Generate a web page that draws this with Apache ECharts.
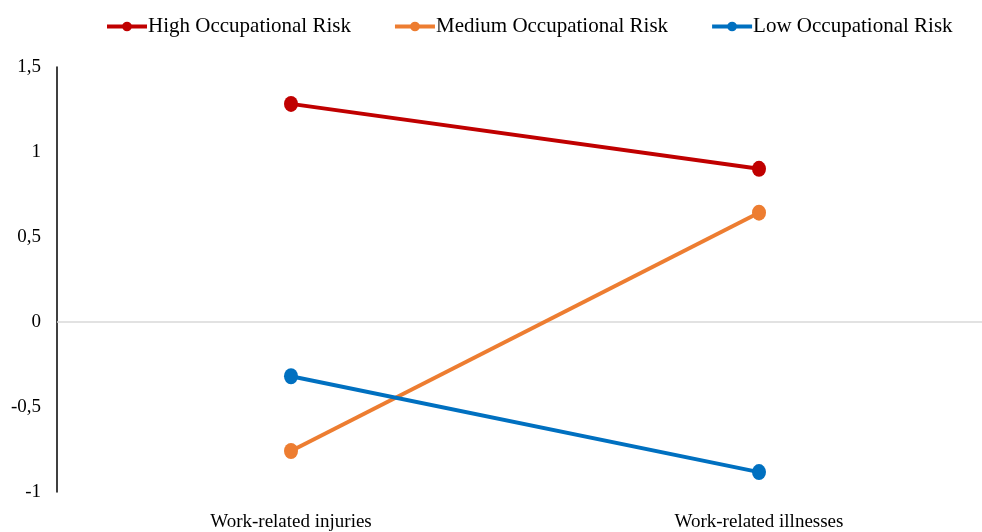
<!DOCTYPE html>
<html>
<head>
<meta charset="utf-8">
<script src="https://cdn.jsdelivr.net/npm/echarts@6/dist/echarts.min.js"></script>
<style>
  html, body { margin: 0; padding: 0; background: #fff; }
  #chart { width: 982px; height: 532px; }
</style>
</head>
<body>
<div id="chart"></div>
<script>
// Categories and series values
const categories = ['Work-related injuries', 'Work-related illnesses'];
const highRisk = [1.283, 0.901];
const mediumRisk = [-0.759, 0.643];
const lowRisk = [-0.319, -0.883];
const seriesNames = ['High Occupational Risk', 'Medium Occupational Risk', 'Low Occupational Risk'];
const seriesColors = ['#C00000', '#ED7D31', '#0070C0'];
const yTicks = [-1, -0.5, 0, 0.5, 1, 1.5];

const fontFamily = '"Liberation Serif", "Times New Roman", serif';

// Categories sit at positions 0, 1, ... on a numeric x axis; the last band is cut by the right edge
const catPositions = categories.map((_, i) => i);

function lineSeries(name, data, color, withZeroLine) {
  const s = {
    name: name,
    type: 'line',
    data: data.map((v, i) => [catPositions[i], v]),
    symbol: 'circle',
    symbolSize: [14, 16],
    lineStyle: { width: 4, color: color },
    itemStyle: { color: color },
    z: 3
  };
  if (withZeroLine) {
    s.markLine = {
      silent: true,
      symbol: 'none',
      label: { show: false },
      lineStyle: { color: '#d9d9d9', width: 1.5, type: 'solid' },
      data: [{ yAxis: 0 }],
      z: 1
    };
  }
  return s;
}

const chart = echarts.init(document.getElementById('chart'));
chart.setOption({
  animation: false,
  legend: {
    top: 11,
    left: 100,
    itemWidth: 40,
    itemHeight: 12,
    itemGap: 42,
    lineStyle: { width: 4 },
    textStyle: { fontFamily: fontFamily, fontSize: 21, color: '#000', padding: [0, 0, 0, -4] },
    data: seriesNames
  },
  grid: { left: 57, right: 0, top: 67, bottom: 39, containLabel: false },
  xAxis: {
    type: 'value',
    min: -0.5,
    max: 1.4765,
    axisLine: { show: false },
    axisTick: { show: false },
    splitLine: { show: false },
    axisLabel: {
      customValues: catPositions,
      fontFamily: fontFamily,
      fontSize: 19,
      color: '#000',
      margin: 21,
      formatter: v => categories[Math.round(v)] || ''
    }
  },
  yAxis: {
    type: 'value',
    min: yTicks[0],
    max: yTicks[yTicks.length - 1],
    interval: 0.5,
    axisLine: { show: true, onZero: false, lineStyle: { color: '#000', width: 1.5 } },
    axisTick: { show: false },
    splitLine: { show: false },
    axisLabel: {
      fontFamily: fontFamily,
      fontSize: 19,
      color: '#000',
      margin: 16,
      formatter: v => String(v).replace('.', ',')
    }
  },
  series: [
    lineSeries(seriesNames[0], highRisk, seriesColors[0], true),
    lineSeries(seriesNames[1], mediumRisk, seriesColors[1], false),
    lineSeries(seriesNames[2], lowRisk, seriesColors[2], false)
  ]
});
</script>
</body>
</html>
